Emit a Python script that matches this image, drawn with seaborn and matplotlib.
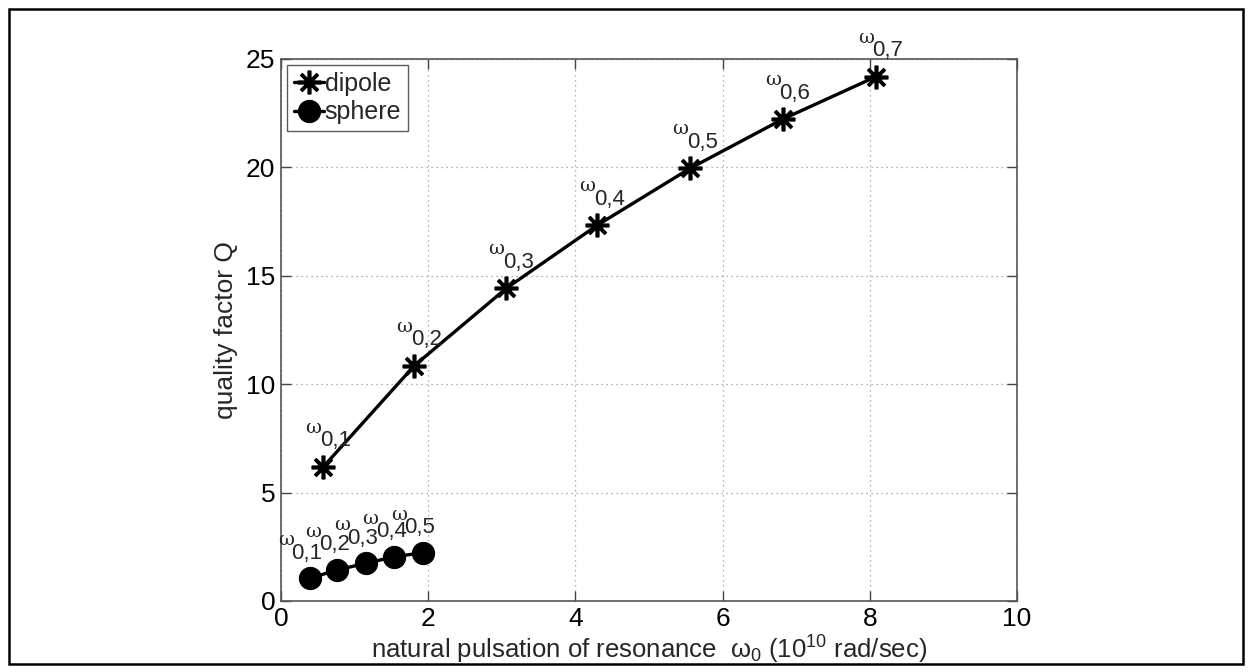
import matplotlib
matplotlib.use("Agg")
import matplotlib.pyplot as plt
import seaborn as sns
from matplotlib.patches import Rectangle

# Natural pulsation (10^10 rad/s) and quality factor for each resonance mode
dipole_w = [0.575, 1.81, 3.06, 4.30, 5.56, 6.82, 8.08]
dipole_q = [6.19, 10.85, 14.42, 17.34, 19.96, 22.23, 24.18]
dipole_modes = ["0,1", "0,2", "0,3", "0,4", "0,5", "0,6", "0,7"]

sphere_w = [0.39, 0.765, 1.15, 1.54, 1.925]
sphere_q = [1.05, 1.43, 1.74, 2.04, 2.23]
sphere_modes = ["0,1", "0,2", "0,3", "0,4", "0,5"]

x_ticks = [0, 2, 4, 6, 8, 10]
y_ticks = [0, 5, 10, 15, 20, 25]

sns.set_theme(style="white")
plt.rcParams["font.family"] = ["Liberation Sans", "DejaVu Sans"]
plt.rcParams["mathtext.fontset"] = "custom"
plt.rcParams["mathtext.rm"] = "Liberation Sans"
plt.rcParams["mathtext.it"] = "Liberation Sans"
plt.rcParams["mathtext.bf"] = "Liberation Sans:bold"

fig = plt.figure(figsize=(12.52, 6.72), dpi=100)
fig.patch.set_facecolor("white")
ax = fig.add_axes([281 / 1252, 1 - 601 / 672, (1017 - 281) / 1252, (601 - 59) / 672])

asterisk = (8, 2, 0)
sns.lineplot(x=dipole_w, y=dipole_q, ax=ax, color="black", lw=2.4,
             marker=asterisk, markersize=17, markeredgewidth=2.6,
             markeredgecolor="black", label="dipole", sort=False)
sns.lineplot(x=sphere_w, y=sphere_q, ax=ax, color="black", lw=2.4,
             marker="o", markersize=16, markeredgecolor="black",
             markerfacecolor="black", label="sphere", sort=False)

ax.set_xlim(0, 10)
ax.set_ylim(0, 25)
ax.set_xticks(x_ticks)
ax.set_yticks(y_ticks)
ax.set_xticklabels([str(t) for t in x_ticks])
ax.set_yticklabels([str(t) for t in y_ticks])
ax.tick_params(direction="in", length=7, width=1, colors="#444444",
               labelcolor="black", labelsize=19, top=True, right=True,
               bottom=True, left=True)
ax.tick_params(axis="x", pad=4)
ax.tick_params(axis="y", pad=4)
ax.grid(True, linestyle=(0, (1, 3)), color="#999999", lw=0.9)
for s in ax.spines.values():
    s.set_color("#555555")
    s.set_linewidth(1.2)


def mode_label(x, y, mode, dx_w, dy_w, dx_s, dy_s):
    # omega glyph above-left, mode index lower as subscript
    ax.annotate("ω", (x, y), xytext=(dx_w, dy_w), textcoords="offset pixels",
                ha="center", va="center", fontsize=14, family="DejaVu Serif")
    ax.annotate(mode, (x, y), xytext=(dx_s, dy_s), textcoords="offset pixels",
                ha="center", va="center", fontsize=16)


for x, y, m in zip(dipole_w, dipole_q, dipole_modes):
    mode_label(x, y, m, -10, 39, 12, 26)
for x, y, m in zip(sphere_w, sphere_q, sphere_modes):
    mode_label(x, y, m, -24, 38, -3, 25)

ax.set_xlabel(r"natural pulsation of resonance  $\omega_0$ ($10^{10}$ rad/sec)",
              fontsize=18.5, labelpad=2)
ax.set_ylabel("quality factor Q", fontsize=19, labelpad=6)

leg = ax.legend(loc="upper left", fontsize=18, frameon=True, fancybox=False,
                handlelength=1.2, handletextpad=0.05, borderpad=0.25,
                labelspacing=0.2, borderaxespad=0.25)
leg.get_frame().set_edgecolor("#333333")
leg.get_frame().set_linewidth(1.0)

fig.add_artist(Rectangle((9 / 1252, 1 - 664 / 672), 1234 / 1252, 655 / 672,
                         transform=fig.transFigure, fill=False,
                         edgecolor="black", lw=1.8))

fig.savefig("out.png", dpi=100, facecolor="white")
